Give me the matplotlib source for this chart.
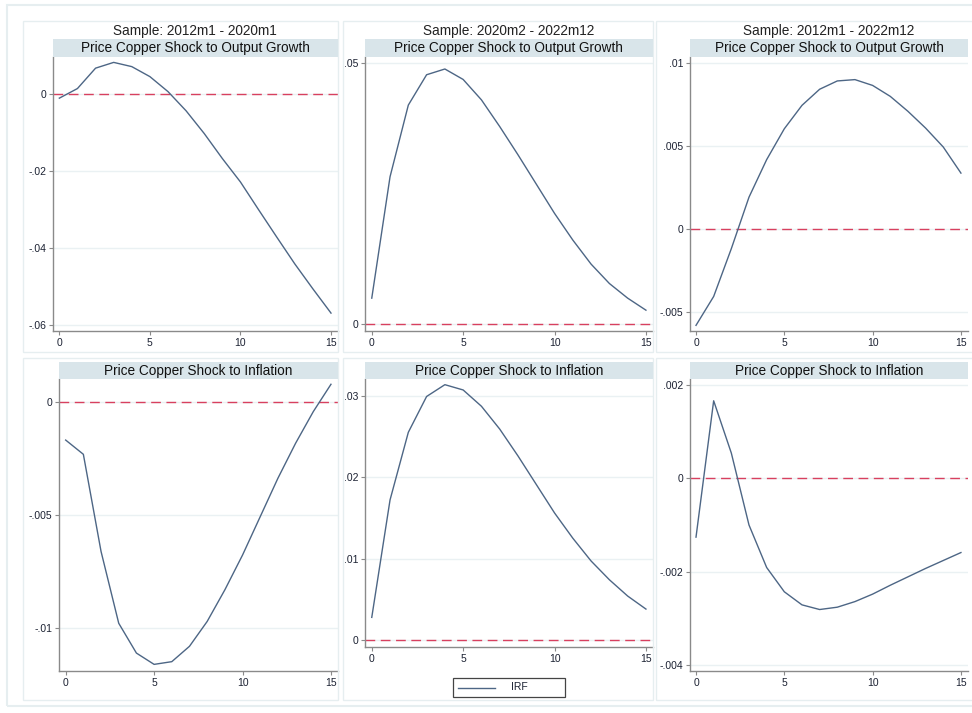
#!/usr/bin/env python3
# -*- coding: utf-8 -*-

import matplotlib
matplotlib.use('Agg')
import matplotlib.pyplot as plt
from matplotlib.patches import Rectangle
from matplotlib.lines import Line2D

plt.rcParams['font.family'] = ['Liberation Sans', 'DejaVu Sans']

# impulse responses, horizon 0..15
horizon = list(range(16))

out_pre = [-0.0010, 0.0015, 0.0068, 0.0083, 0.0072, 0.0046, 0.0007, -0.0043,
           -0.0102, -0.0167, -0.0228, -0.0300, -0.0371, -0.0441, -0.0506, -0.0569]
out_post = [0.0050, 0.0282, 0.0419, 0.0477, 0.0488, 0.0468, 0.0429, 0.0378,
            0.0324, 0.0268, 0.0212, 0.0161, 0.0115, 0.0078, 0.0050, 0.0027]
out_full = [-0.00582, -0.00408, -0.00120, 0.00190, 0.00416, 0.00602, 0.00743, 0.00840,
            0.00890, 0.00898, 0.00863, 0.00797, 0.00707, 0.00606, 0.00492, 0.00335]
inf_pre = [-0.00167, -0.00230, -0.00660, -0.00978, -0.01110, -0.01160, -0.01148, -0.01080,
           -0.00970, -0.00830, -0.00676, -0.00506, -0.00336, -0.00181, -0.00041, 0.00080]
inf_post = [0.00278, 0.0172, 0.0255, 0.0299, 0.03135, 0.0307, 0.0287, 0.0259,
            0.0226, 0.0191, 0.0156, 0.0125, 0.0097, 0.0074, 0.0054, 0.0038]
inf_full = [-0.00126, 0.00166, 0.00054, -0.00100, -0.00191, -0.00243, -0.00271, -0.00281,
            -0.00276, -0.00264, -0.00248, -0.00229, -0.00211, -0.00193, -0.00176, -0.00159]

samples = ['Sample: 2012m1 - 2020m1', 'Sample: 2020m2 - 2022m12', 'Sample: 2012m1 - 2022m12']
strip_titles = ['Price Copper Shock to Output Growth', 'Price Copper Shock to Inflation']
legend_label = 'IRF'

yticks = [[-0.06, -0.04, -0.02, 0], [0, 0.05], [-0.005, 0, 0.005, 0.01],
          [-0.01, -0.005, 0], [0, 0.01, 0.02, 0.03], [-0.004, -0.002, 0, 0.002]]
series = [out_pre, out_post, out_full, inf_pre, inf_post, inf_full]

W, H = 972, 713
fig = plt.figure(figsize=(W / 100, H / 100), dpi=100)
fig.patch.set_facecolor('white')

LINE = '#4d6685'
ZERO = '#d8405f'
STRIP = '#d9e5ea'
FRAME = '#e6eef0'


def frac(l, t, r, b):
	return [l / W, 1 - b / H, (r - l) / W, (b - t) / H]


def lab(v):
	if v == 0:
		return '0'
	s = '%g' % v
	return s.replace('0.', '.')


def fx(x):
	return x / W


def fy(y):
	return 1 - y / H


# outer frame and panel frames
fig.add_artist(Rectangle((fx(7), fy(706)), 975 / W, 701 / H, transform=fig.transFigure,
                         fill=False, edgecolor=FRAME, lw=1.5))
for (l, r) in [(23, 338), (343, 653), (656, 980)]:
	for (t, b) in [(21, 352), (358, 700)]:
		fig.add_artist(Rectangle((fx(l), fy(b)), (r - l) / W, (b - t) / H,
		                         transform=fig.transFigure, fill=False, edgecolor=FRAME, lw=1))

# plot areas in pixels: left, top, right, bottom
boxes = [(53, 56.7, 337.7, 330.7), (365, 56.7, 652.7, 331), (690, 56.7, 968, 331),
         (59.3, 379.3, 337.7, 670.7), (365, 379.3, 652.7, 646.7), (690, 379.3, 968, 670.7)]
xlims = [(-0.35, 15.37), (-0.37, 15.37), (-0.34, 15.4),
         (-0.36, 15.38), (-0.37, 15.37), (-0.34, 15.4)]
ylims = [(-0.06148, 0.00978), (-0.00128, 0.05115), (-0.00616, 0.01036),
         (-0.01188, 0.00102), (-0.00082, 0.03201), (-0.00412, 0.00212)]

for i, (l, t, r, b) in enumerate(boxes):
	ax = fig.add_axes(frac(l, t, r, b))
	ax.plot(horizon, series[i], color=LINE, lw=1.0, zorder=3)
	ax.axhline(0, color=ZERO, lw=1.0, dashes=(7, 4), zorder=2)
	ax.set_xlim(*xlims[i])
	ax.set_ylim(*ylims[i])
	ax.set_xticks([0, 5, 10, 15])
	ax.set_yticks(yticks[i])
	ax.set_yticklabels([lab(v) for v in yticks[i]])
	ax.grid(axis='y', color='#eaf1f3', lw=1)
	ax.set_axisbelow(True)
	for s in ['top', 'right']:
		ax.spines[s].set_visible(False)
	for s in ['left', 'bottom']:
		ax.spines[s].set_color('#8a8a8a')
		ax.spines[s].set_linewidth(1.0)
	ax.tick_params(labelsize=7.5, colors='#8a8a8a', labelcolor='#1c2233', length=3, width=0.8, pad=2)

	# strip title
	st = 39.3 if i < 3 else 361.7
	fig.add_artist(Rectangle((fx(l), fy(t)), (r - l) / W, (t - st) / H,
	                         transform=fig.transFigure, facecolor=STRIP, edgecolor='none'))
	fig.text(fx((l + r) / 2), fy((st + t) / 2), strip_titles[i // 3],
	         ha='center', va='center', fontsize=9.8, color='#111111')
	if i < 3:
		fig.text(fx((l + r) / 2), fy(30.7), samples[i],
		         ha='center', va='center', fontsize=9.8, color='#222222')

# legend box below the middle column
fig.add_artist(Rectangle((fx(453), fy(697)), 112 / W, 19 / H, transform=fig.transFigure,
                         facecolor='white', edgecolor='#444444', lw=0.9))
fig.add_artist(Line2D([fx(458), fx(495)], [fy(687.5), fy(687.5)], transform=fig.transFigure,
                      color=LINE, lw=1.0))
fig.text(fx(511), fy(687.5), legend_label, ha='left', va='center', fontsize=7.5, color='#1c2233')

fig.savefig('out.png', dpi=100)
